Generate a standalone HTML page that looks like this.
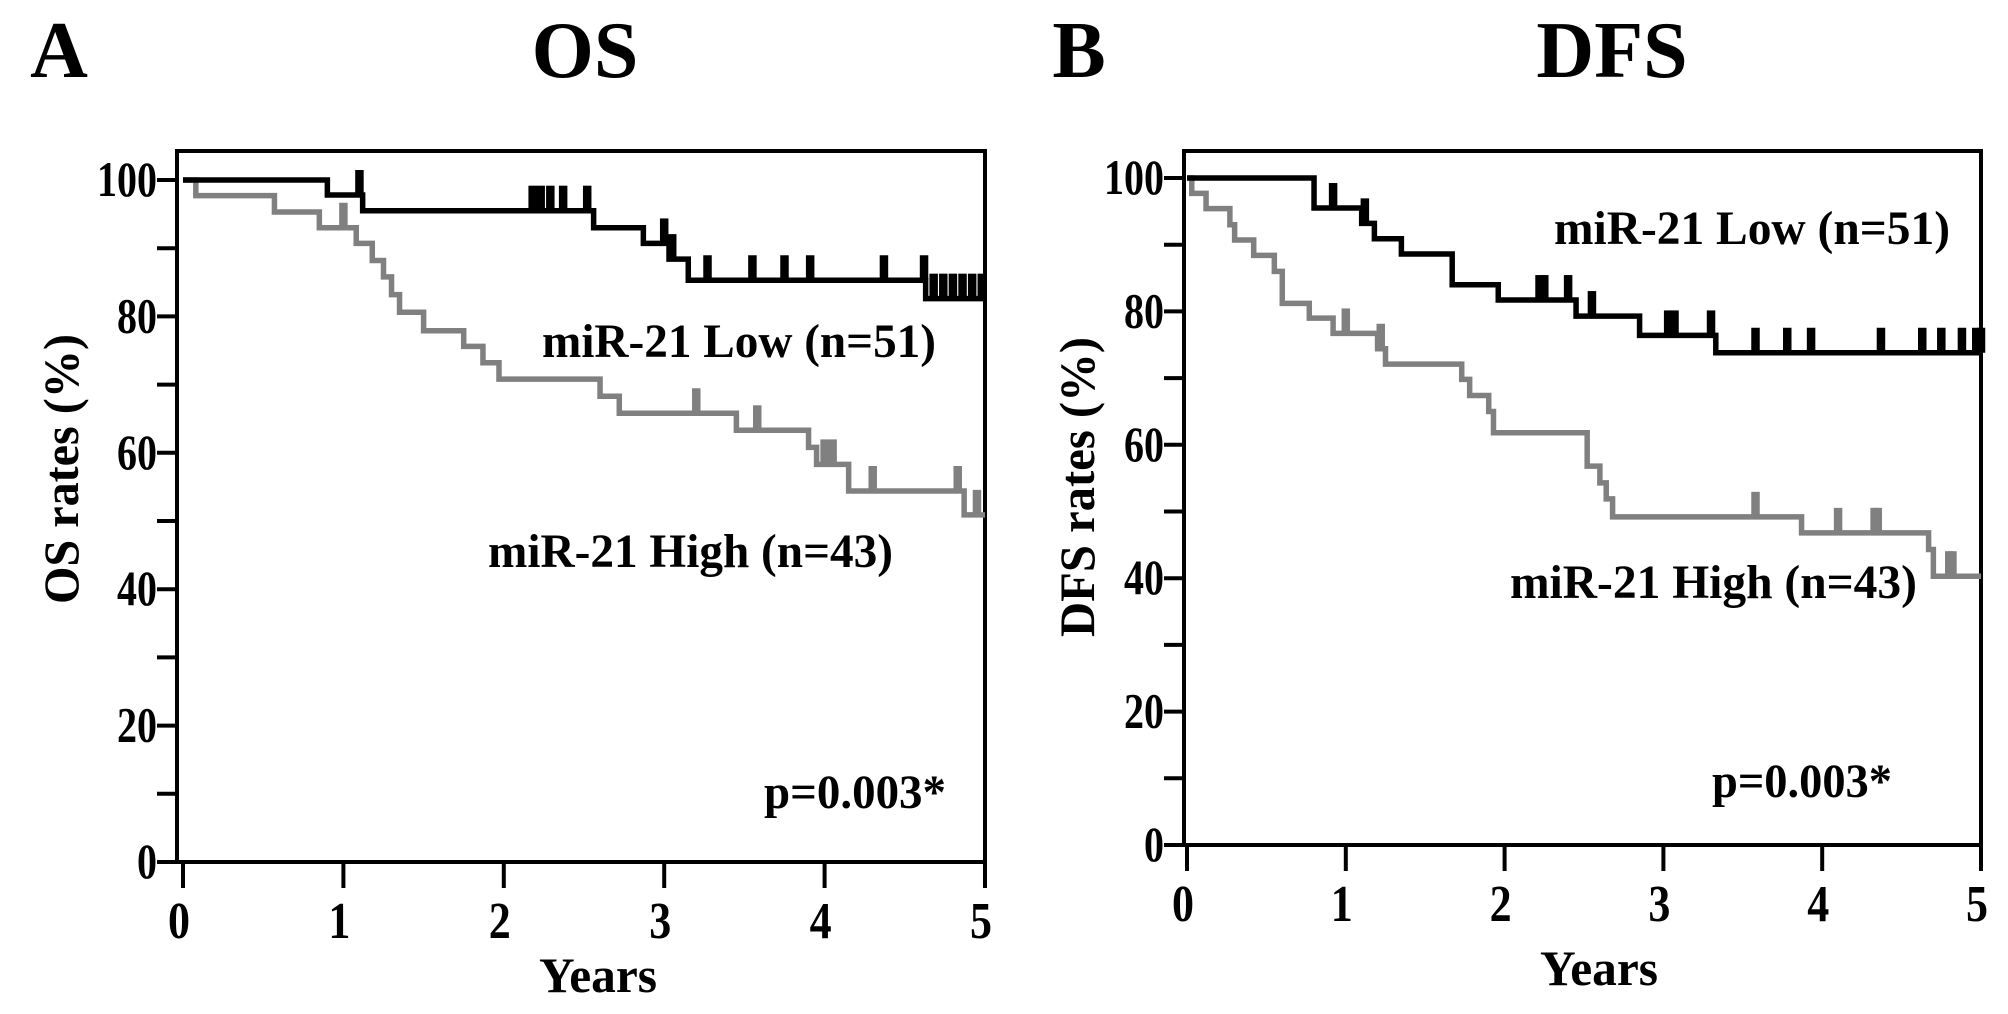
<!DOCTYPE html>
<html><head><meta charset="utf-8"><style>
html,body{margin:0;padding:0;background:#fff;}
svg{display:block;font-family:"Liberation Serif",serif;font-weight:bold;}
</style></head><body>
<svg id="c" width="2008" height="1014" viewBox="0 0 2008 1014" xmlns="http://www.w3.org/2000/svg">
<text x="59" y="77" font-size="80" text-anchor="middle">A</text>
<text x="585" y="77" font-size="80" text-anchor="middle">OS</text>
<text x="1079" y="77" font-size="80" text-anchor="middle">B</text>
<text x="1612" y="77" font-size="80" text-anchor="middle">DFS</text>
</svg>
<script>
// ---- data ----
const xTicks = [0,1,2,3,4,5];
const yTicks = [0,20,40,60,80,100];
const yMinor = [10,30,50,70,90];

// OS panel
const osLowTimes  = [0.9, 1.12, 2.56, 2.87, 3.03, 3.15, 4.63];
const osLowVals   = [97.8, 95.5, 93.0, 90.7, 88.4, 85.3, 82.6];
const osLowCens   = [1.1, 2.18, 2.23, 2.29, 2.37, 2.52, 3.0, 3.05, 3.27, 3.55, 3.75, 3.91, 4.37, 4.62, 4.68, 4.74, 4.8, 4.86, 4.92, 4.98];
const osHighTimes = [0.08, 0.57, 0.85, 1.08, 1.18, 1.25, 1.3, 1.35, 1.5, 1.75, 1.87, 1.97, 2.6, 2.72, 3.45, 3.9, 3.95, 4.15, 4.87];
const osHighVals  = [97.7, 95.3, 93.0, 90.7, 88.2, 85.8, 83.2, 80.6, 77.9, 75.6, 73.2, 70.8, 68.3, 65.8, 63.3, 60.8, 58.3, 54.4, 50.9];
const osHighCens  = [1.0, 3.2, 3.58, 4.0, 4.05, 4.3, 4.83, 4.95];

// DFS panel
const dfsLowTimes  = [0.8, 1.1, 1.18, 1.35, 1.67, 1.96, 2.45, 2.85, 3.33];
const dfsLowVals   = [95.5, 93.2, 90.9, 88.6, 84.0, 81.7, 79.3, 76.4, 73.8];
const dfsLowCens   = [0.92, 1.12, 2.22, 2.25, 2.4, 2.55, 3.03, 3.07, 3.3, 3.58, 3.78, 3.93, 4.37, 4.63, 4.75, 4.88, 4.97, 5.0];
const dfsHighTimes = [0.03, 0.12, 0.27, 0.3, 0.42, 0.55, 0.6, 0.77, 0.92, 1.2, 1.25, 1.73, 1.78, 1.9, 1.93, 2.52, 2.6, 2.64, 2.68, 3.87, 4.67, 4.7];
const dfsHighVals  = [97.7, 95.4, 93.0, 90.7, 88.4, 86.0, 81.2, 79.0, 76.7, 74.4, 72.1, 69.8, 67.4, 65.0, 61.8, 56.8, 54.3, 51.9, 49.2, 46.8, 44.3, 40.3];
const dfsHighCens  = [1.0, 1.22, 3.58, 4.1, 4.33, 4.35, 4.8, 4.82];

const svg = document.getElementById('c');
const NS = 'http://www.w3.org/2000/svg';
function mk(tag, attrs, parent){const e=document.createElementNS(NS,tag);for(const k in attrs)e.setAttribute(k,attrs[k]);(parent||svg).appendChild(e);return e;}

function panel(cfg){
  const g = mk('g',{});
  
  
  const X = t => cfg.x0 + (cfg.x5 - cfg.x0) * t / 5;
  const Y = v => cfg.y0 + (cfg.y100 - cfg.y0) * v / 100;
  const fr = mk('rect',{x:cfg.fl,y:cfg.ft,width:cfg.fr-cfg.fl,height:cfg.fb-cfg.ft,fill:'none',stroke:'#000','stroke-width':4},g);
  
  
  yTicks.concat(yMinor).forEach(v=>{
    const l = mk('line',{x1:cfg.fl-20,x2:cfg.fl,y1:Y(v),y2:Y(v),stroke:'#000','stroke-width':4},g);
    
    
  });
  yTicks.forEach(v=>{
    const t = mk('text',{x:cfg.fl-20,y:Y(v)+16,'font-size':50,'text-anchor':'end',textLength:String(v).length*20,lengthAdjust:'spacingAndGlyphs'},g);
    t.textContent = v;
    
    
  });
  xTicks.forEach(v=>{
    const l = mk('line',{x1:X(v),x2:X(v),y1:cfg.fb,y2:cfg.fb+26,stroke:'#000','stroke-width':4},g);
    
    
    const t = mk('text',{x:X(v)-4,y:cfg.fb+76,'font-size':52,'text-anchor':'middle',textLength:22,lengthAdjust:'spacingAndGlyphs'},g);
    t.textContent = v;
    
    
  });
  const xt = mk('text',{x:cfg.xtx,y:cfg.xty,'font-size':50,'text-anchor':'middle',textLength:118,lengthAdjust:'spacingAndGlyphs'},g);
  xt.textContent = 'Years';
  
  
  const yt = mk('text',{x:0,y:0,'font-size':50,'text-anchor':'middle',textLength:cfg.ytw,lengthAdjust:'spacingAndGlyphs',transform:`translate(${cfg.ytx},${cfg.yty}) rotate(-90)`},g);
  yt.textContent = cfg.ytitle;
  
  

  function curve(times, vals, cens, color, w, nm){
    let d = `M${X(0)},${Y(100)}`;
    times.forEach((t,i)=>{ d += ` H${X(t)} V${Y(vals[i])}`; });
    d += ` H${X(5)}`;
    const p = mk('path',{d:d,fill:'none',stroke:color,'stroke-width':w,'stroke-linejoin':'miter'},g);
    
    
    cens.forEach(c=>{
      let v = 100;
      times.forEach((t,i)=>{ if (t <= c) v = vals[i]; });
      const l = mk('line',{x1:X(c),x2:X(c),y1:Y(v),y2:Y(v)-25,stroke:color,'stroke-width':w+3},g);
      
      
    });
  }
  curve(cfg.hT, cfg.hV, cfg.hC, '#808080', 5.5, 'high');
  curve(cfg.lT, cfg.lV, cfg.lC, '#000', 5.5, 'low');

  const lowT = mk('text',{x:cfg.lowX,y:cfg.lowY,'font-size':48,textLength:cfg.lowW,lengthAdjust:'spacingAndGlyphs'},g);
  lowT.textContent = 'miR-21 Low (n=51)';
  
  
  const hiT = mk('text',{x:cfg.hiX,y:cfg.hiY,'font-size':48,textLength:cfg.hiW,lengthAdjust:'spacingAndGlyphs'},g);
  hiT.textContent = 'miR-21 High (n=43)';
  
  
  const pT = mk('text',{x:cfg.pX,y:cfg.pY,'font-size':48,textLength:cfg.pW,lengthAdjust:'spacingAndGlyphs'},g);
  pT.textContent = 'p=0.003*';
  
  
}

panel({name:'os-panel', x0:183, x5:985, y0:862, y100:180, fl:177, fr:985, ft:151, fb:862,
  xtx:598, xty:992, ytx:78, yty:469, ytw:270, ytitle:'OS rates (%)',
  lT:osLowTimes, lV:osLowVals, lC:osLowCens, hT:osHighTimes, hV:osHighVals, hC:osHighCens,
  lowX:542, lowY:357, lowW:394, hiX:488, hiY:567, hiW:405, pX:764, pY:808, pW:182});

panel({name:'dfs-panel', x0:1187, x5:1981, y0:845, y100:178, fl:1184, fr:1981, ft:151, fb:845,
  xtx:1599, xty:985, ytx:1094, yty:487, ytw:300, ytitle:'DFS rates (%)',
  lT:dfsLowTimes, lV:dfsLowVals, lC:dfsLowCens, hT:dfsHighTimes, hV:dfsHighVals, hC:dfsHighCens,
  lowX:1554, lowY:244, lowW:396, hiX:1510, hiY:598, hiW:407, pX:1712, pY:797, pW:180});
</script>
</body></html>
